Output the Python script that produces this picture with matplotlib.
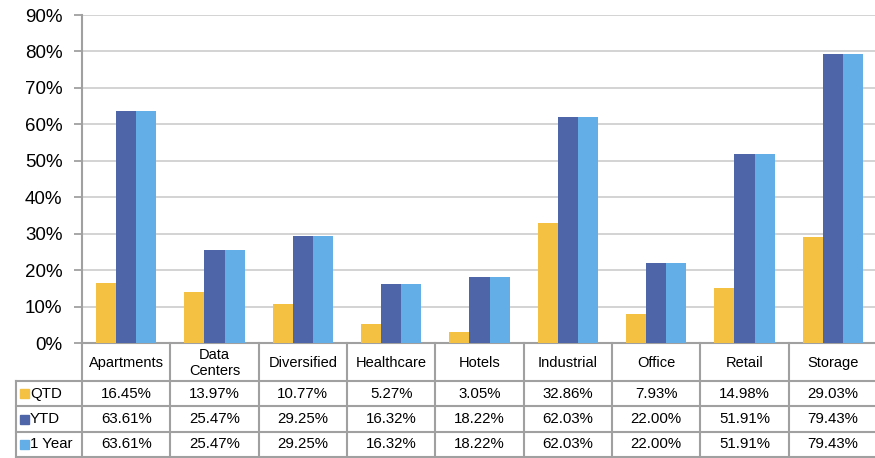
import numpy as np
import matplotlib; matplotlib.use('Agg'); import matplotlib.pyplot as plt
from matplotlib.patches import Rectangle

plt.rcParams['font.family'] = ['Liberation Sans', 'DejaVu Sans']

# ---------------- data ----------------
categories = ['Apartments', 'Data\nCenters', 'Diversified', 'Healthcare', 'Hotels',
              'Industrial', 'Office', 'Retail', 'Storage']
series     = ['QTD', 'YTD', '1 Year']
qtd   = [16.45, 13.97, 10.77, 5.27, 3.05, 32.86, 7.93, 14.98, 29.03]
ytd   = [63.61, 25.47, 29.25, 16.32, 18.22, 62.03, 22.00, 51.91, 79.43]
one_y = [63.61, 25.47, 29.25, 16.32, 18.22, 62.03, 22.00, 51.91, 79.43]
colors = ['#F4C142', '#4E66A7', '#63AEE7']

W, H = 875, 458
fig = plt.figure(figsize=(W / 100, H / 100), dpi=100)

# chart axes in pixel geometry
L, R, T, B = 82, 877, 15, 343
ax = fig.add_axes([L / W, 1 - B / H, (R - L) / W, (B - T) / H])
n = len(categories)
x = np.arange(n) + 0.5
bw = 0.227
for i, (vals, c) in enumerate(zip([qtd, ytd, one_y], colors)):
    ax.bar(x + (i - 1) * bw, vals, bw, color=c, zorder=3)
ax.set_xlim(0, n)
ax.set_ylim(0, 90)
ax.set_yticks(range(0, 91, 10))
ax.set_yticklabels([f'{v}%' for v in range(0, 91, 10)], fontsize=13.5)
ax.set_xticks([])
ax.grid(axis='y', color='#D0D0D0', lw=1.3, zorder=0)
for s in ['top', 'right']:
    ax.spines[s].set_visible(False)
ax.spines['left'].set_color('#A0A0A0')
ax.spines['left'].set_linewidth(1.5)
ax.spines['bottom'].set_color('#A0A0A0')
ax.spines['bottom'].set_linewidth(1.5)
ax.tick_params(axis='y', length=6, width=1.3, color='#A0A0A0', pad=8)

# data table below the chart
TL, TB = 16, 457
tax = fig.add_axes([TL / W, 1 - TB / H, (R - TL) / W, (TB - B) / H])
lab_w = (L - TL) / ((R - L) / n)
tax.set_xlim(-lab_w, n)
tax.set_ylim(TB - B, 0)
tax.axis('off')
hdr = 38
rh = (TB - B - hdr) / 3
lc = '#A0A0A0'
kw = dict(color=lc, lw=1.5, clip_on=False)
# vertical lines
for k in range(n + 1):
    tax.plot([k, k], [0, TB - B], **kw)
tax.plot([-lab_w, -lab_w], [hdr, TB - B], **kw)
# horizontal lines
tax.plot([0, n], [hdr, hdr], **kw)
tax.plot([-lab_w, 0], [hdr, hdr], **kw)
for r in range(1, 4):
    tax.plot([-lab_w, n], [hdr + r * rh] * 2, **kw)
for k, cat in enumerate(categories):
    tax.text(k + 0.5, hdr / 2 + 1, cat, ha='center', va='center', fontsize=10.5, linespacing=1.2)
for r, (name, vals, c) in enumerate(zip(series, [qtd, ytd, one_y], colors)):
    yc = hdr + (r + 0.5) * rh
    tax.add_patch(Rectangle((-lab_w + 0.045, yc - 4.5), 0.1, 9, color=c, clip_on=False))
    tax.text(-lab_w + 0.16, yc, name, ha='left', va='center', fontsize=10.8)
    for k, v in enumerate(vals):
        tax.text(k + 0.5, yc, f'{v:.2f}%', ha='center', va='center', fontsize=10.8)

fig.savefig('out.png', dpi=100)
